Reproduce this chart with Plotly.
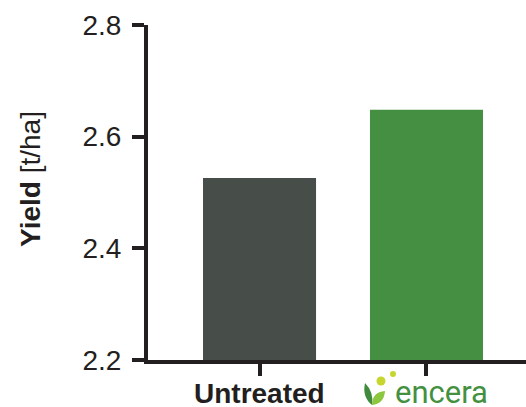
import plotly.graph_objects as go

categories = ["Untreated", "encera"]
yield_values = [2.526, 2.648]
bar_colors = ["#474e4a", "#448f42"]
y_ticks = [2.2, 2.4, 2.6, 2.8]
y_tick_labels = ["2.2", "2.4", "2.6", "2.8"]

W, H = 526, 407
L, R, T, B = 148, 0, 25, 47
PW, PH = W - L - R, H - T - B
AX = "#231f20"
FONT = "Liberation Sans"


def px(x):
    return (x - L) / PW


def py(y):
    return (H - B - y) / PH


x_idx = list(range(len(categories)))

fig = go.Figure()
fig.add_trace(go.Bar(
    x=x_idx, y=yield_values, marker=dict(color=bar_colors, line=dict(width=0)),
    width=0.677, hoverinfo="skip",
))

fig.update_layout(
    width=W, height=H,
    margin=dict(l=L, r=R, t=T, b=B, pad=0, autoexpand=False),
    plot_bgcolor="white", paper_bgcolor="white",
    showlegend=False,
    font=dict(family=FONT, color=AX),
)
fig.update_xaxes(
    range=[-0.668, 1.596], tickvals=x_idx,
    ticktext=["", ""], automargin=False,
    showline=True, linecolor=AX, linewidth=4,
    ticks="outside", ticklen=12, tickwidth=4, tickcolor=AX,
    showgrid=False, zeroline=False,
)
fig.update_yaxes(
    range=[2.2, 2.8], tickvals=y_ticks, ticktext=y_tick_labels,
    automargin=False,
    showline=True, linecolor=AX, linewidth=4,
    ticks="outside", ticklen=12, tickwidth=4, tickcolor=AX,
    tickfont=dict(size=28, family=FONT, color=AX),
    ticklabelstandoff=5,
    showgrid=False, zeroline=False,
)

# y-axis title
fig.add_annotation(
    text="<b>Yield</b> [t/ha]", textangle=-90,
    xref="paper", yref="paper", x=px(30), y=py(179),
    xanchor="center", yanchor="middle", showarrow=False,
    font=dict(size=28, family=FONT, color=AX),
)

# category labels
fig.add_annotation(
    text="<b>Untreated</b>", xref="x", yref="paper", x=x_idx[0], y=py(393),
    xanchor="center", yanchor="middle", showarrow=False, borderpad=0,
    font=dict(size=28, family=FONT, color=AX),
)
fig.add_annotation(
    text=categories[1], xref="x", yref="paper", x=x_idx[1], y=py(392),
    xanchor="center", yanchor="middle", xshift=15, showarrow=False, borderpad=0,
    font=dict(size=31, family="Roboto", color="#43903f"),
)

# leaf icon of the encera logo
fig.add_shape(type="path", xref="paper", yref="paper",
              path=(f"M {px(372):.5f},{py(405):.5f} "
                    f"Q {px(362):.5f},{py(397):.5f} {px(365):.5f},{py(383):.5f} "
                    f"Q {px(374):.5f},{py(392):.5f} {px(372):.5f},{py(405):.5f} Z"),
              fillcolor="#3f8a3c", line=dict(width=0))
fig.add_shape(type="path", xref="paper", yref="paper",
              path=(f"M {px(372):.5f},{py(405):.5f} "
                    f"Q {px(372):.5f},{py(392):.5f} {px(385):.5f},{py(391):.5f} "
                    f"Q {px(384):.5f},{py(404):.5f} {px(372):.5f},{py(405):.5f} Z"),
              fillcolor="#8dc63f", line=dict(width=0))
fig.add_shape(type="circle", xref="paper", yref="paper",
              x0=px(376.5), x1=px(385.5), y0=py(385.5), y1=py(376.5),
              fillcolor="#c6d62e", line=dict(width=0))
fig.add_shape(type="circle", xref="paper", yref="paper",
              x0=px(390), x1=px(396), y0=py(377), y1=py(371),
              fillcolor="#c6d62e", line=dict(width=0))

fig.write_html(
    "out.html",
    config={"displayModeBar": False, "staticPlot": True},
    post_script="document.body.style.margin='0';document.body.style.overflow='hidden';",
)
